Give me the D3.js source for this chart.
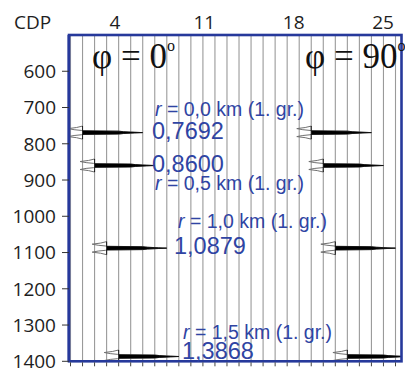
<!DOCTYPE html>
<html>
<head>
<meta charset="utf-8">
<script src="https://cdn.jsdelivr.net/npm/d3@7/dist/d3.min.js"></script>
<style>
  body { margin: 0; background: #fff; }
</style>
</head>
<body>
<svg id="chart" width="405" height="368" font-family="'Open Sans', 'Liberation Sans', sans-serif"></svg>
<script>
// CDP labels on top, two-way time (ms) on the left
const cdpTicks = [4, 11, 18, 25];
const timeTicks = [600, 700, 800, 900, 1000, 1100, 1200, 1300, 1400];
const traceCount = 28;

// reflection events: picked times (ms) and the trace carrying them
const eventTimes = [769.2, 860.0, 1087.9, 1386.8];
const leftTraces = [1, 2, 3, 4];
const rightTraces = [20, 21, 22, 23];
const timeLabels = ['0,7692', '0,8600', '1,0879', '1,3868'];
const offsetLabels = ['0,0', '0,5', '1,0', '1,5'];
const angleLabels = ['0', '90'];

// wavelet: time offset (ms) / amplitude (in trace spacings)
const waveletDt = [-18, -14, -11, -8, -6, -5, -4, -2.5, -1, 0, 1, 2.5, 4, 5, 6, 8, 11, 14, 18];
const waveletAmp = [0, -0.5, -1.2, -0.7, -0.1, 0, 3.0, 3.4, 4.3, 5.0, 4.3, 3.4, 3.0, 0, -0.1, -0.7, -1.2, -0.5, 0];

const blue = '#26399b';
const textBlue = '#2f44a3';

const svg = d3.select('#chart');

const plotLeft = 69, plotRight = 401.5, plotTop = 35, plotBottom = 361.3;

const y = d3.scaleLinear().domain([500, 1400]).range([plotTop, plotBottom]);
const xTrace = d3.scaleLinear().domain([0, traceCount - 1]).range([70.5, 395.5]);
const xCdp = d3.scaleLinear().domain([4, 25]).range([115, 383]);
const spacing = xTrace(1) - xTrace(0);

svg.append('clipPath').attr('id', 'plot')
  .append('rect')
  .attr('x', plotLeft).attr('y', plotTop)
  .attr('width', plotRight - plotLeft).attr('height', plotBottom - plotTop);

const plot = svg.append('g').attr('clip-path', 'url(#plot)');

// traces
plot.selectAll('.trace')
  .data(d3.range(traceCount))
  .enter()
  .append('line')
  .attr('class', 'trace')
  .attr('x1', (d) => xTrace(d))
  .attr('x2', (d) => xTrace(d))
  .attr('y1', plotTop)
  .attr('y2', plotBottom)
  .attr('stroke', '#9a9a9a')
  .attr('stroke-width', 1.1);

// events
const events = [];
eventTimes.forEach((t, i) => {
  events.push({t: t, trace: leftTraces[i]});
  events.push({t: t, trace: rightTraces[i]});
});

const wavelet = waveletDt.map((dt, i) => ({dt: dt, a: waveletAmp[i]}));

events.forEach((ev) => {
  const base = xTrace(ev.trace);

  const area = d3.area()
    .y((d) => y(ev.t + d.dt))
    .x0(base)
    .x1((d) => base + Math.max(0, d.a) * spacing);

  const line = d3.line()
    .y((d) => y(ev.t + d.dt))
    .x((d) => base + d.a * spacing);

  plot.append('path')
    .datum(wavelet)
    .attr('d', line)
    .attr('fill', 'none')
    .attr('stroke', '#707070')
    .attr('stroke-width', 1);

  plot.append('path')
    .datum(wavelet)
    .attr('d', area)
    .attr('fill', '#000')
    .attr('stroke', '#000')
    .attr('stroke-width', 0.6);
});

// frame
svg.append('rect')
  .attr('x', plotLeft).attr('y', plotTop)
  .attr('width', plotRight - plotLeft).attr('height', plotBottom - plotTop)
  .attr('fill', 'none')
  .attr('stroke', blue)
  .attr('stroke-width', 2.6);
svg.append('line')
  .attr('x1', plotLeft - 0.5).attr('x2', plotLeft - 0.5)
  .attr('y1', plotTop).attr('y2', plotBottom)
  .attr('stroke', blue).attr('stroke-width', 2);

// left axis
const yAxis = svg.append('g');
yAxis.selectAll('line')
  .data(timeTicks)
  .enter()
  .append('line')
  .attr('x1', 62).attr('x2', plotLeft)
  .attr('y1', (d) => y(d)).attr('y2', (d) => y(d))
  .attr('stroke', '#333').attr('stroke-width', 1);
yAxis.selectAll('text')
  .data(timeTicks)
  .enter()
  .append('text')
  .attr('x', 56)
  .attr('y', (d) => y(d))
  .attr('dy', '0.36em')
  .attr('text-anchor', 'end')
  .attr('font-size', 19)
  .attr('fill', '#1e1e1e')
  .text((d) => d);

// bottom ticks
svg.append('g').selectAll('line')
  .data(d3.range(traceCount))
  .enter()
  .append('line')
  .attr('x1', (d) => xTrace(d)).attr('x2', (d) => xTrace(d))
  .attr('y1', plotBottom + 1).attr('y2', plotBottom + 5)
  .attr('stroke', '#444').attr('stroke-width', 1);

// top axis
svg.append('g').selectAll('text')
  .data(cdpTicks)
  .enter()
  .append('text')
  .attr('x', (d) => xCdp(d))
  .attr('y', 29)
  .attr('text-anchor', 'middle')
  .attr('font-size', 19)
  .attr('fill', '#1e1e1e')
  .text((d) => d);
svg.append('text')
  .attr('x', 14).attr('y', 29)
  .attr('font-size', 19)
  .attr('fill', '#1e1e1e')
  .text('CDP');

// angle labels
const angleX = [92, 305];
angleLabels.forEach((a, i) => {
  const t = svg.append('text')
    .attr('x', angleX[i]).attr('y', 68)
    .attr('font-family', "'Liberation Serif', 'DejaVu Serif', serif")
    .attr('font-size', 35)
    .attr('fill', '#111');
  t.append('tspan').text('\u03c6 = ' + a);
  t.append('tspan').attr('font-size', 16).attr('dy', -17).text('o');
});

// annotations
const offsetPos = [[155, 116], [155, 189.5], [178, 228], [183, 339]];
const timePos = [[152, 138.5], [152, 171.5], [174, 253.5], [182, 359]];

offsetLabels.forEach((o, i) => {
  const t = svg.append('text')
    .attr('x', offsetPos[i][0]).attr('y', offsetPos[i][1])
    .attr('font-family', "'Liberation Sans', Arial, sans-serif")
    .attr('font-size', 19.5)
    .attr('fill', textBlue);
  t.append('tspan').attr('font-style', 'italic').text('r');
  t.append('tspan').text(' = ' + o + ' km (1. gr.)');
});

timeLabels.forEach((s, i) => {
  svg.append('text')
    .attr('x', timePos[i][0]).attr('y', timePos[i][1])
    .attr('font-family', "'Liberation Sans', Arial, sans-serif")
    .attr('font-size', 23.5)
    .attr('fill', textBlue)
    .text(s);
});
</script>
</body>
</html>
